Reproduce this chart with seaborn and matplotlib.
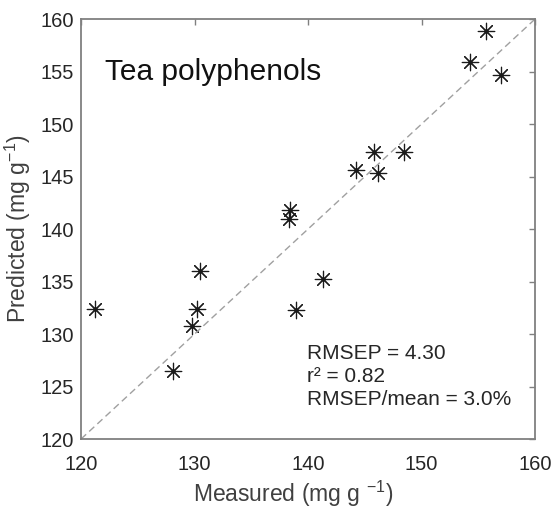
import matplotlib
matplotlib.use('Agg')
import matplotlib.pyplot as plt
import seaborn as sns
import pandas as pd

# measured vs predicted - tea polyphenols
measured = [155.7, 154.3, 157.0, 145.8, 148.5, 144.2, 146.2, 138.4, 138.3,
            130.5, 141.3, 121.2, 130.2, 138.9, 129.8, 128.1]
predicted = [158.9, 155.9, 154.7, 147.3, 147.3, 145.6, 145.3, 141.8, 141.0,
             136.0, 135.2, 132.4, 132.4, 132.3, 130.8, 126.5]
ticks_x = [120, 130, 140, 150, 160]
ticks_y = [120, 125, 130, 135, 140, 145, 150, 155, 160]
stats_text = 'RMSEP = 4.30\nr² = 0.82\nRMSEP/mean = 3.0%'

data = pd.DataFrame({'Measured': measured, 'Predicted': predicted})

sns.set_style('white')
plt.rcParams['font.family'] = ['Liberation Sans', 'DejaVu Sans']
plt.rcParams['mathtext.fontset'] = 'custom'
plt.rcParams['mathtext.rm'] = 'Liberation Sans'
plt.rcParams['mathtext.it'] = 'Liberation Sans'

fig = plt.figure(figsize=(5.55, 5.09), dpi=100)
ax = fig.add_axes([0.146, 0.1375, 0.818, 0.825])

ax.plot([120, 160], [120, 160], ls=(0, (5, 3)), color='#a0a0a0', lw=1)
sns.scatterplot(x='Measured', y='Predicted', data=data, ax=ax,
                marker=(8, 2, 0), s=140, color='#1a1a1a', linewidth=0.85,
                edgecolor='#1a1a1a', legend=False)

ax.set_xlim(120, 160)
ax.set_ylim(120, 160)
ax.set_xticks(ticks_x)
ax.set_yticks(ticks_y)
ax.tick_params(direction='in', length=4, width=1, color='#808080',
               labelcolor='#262626', labelsize=14.5, top=True, right=True)
ax.tick_params(axis='x', pad=11.5)
ax.tick_params(axis='y', pad=5)
for sp in ax.spines.values():
    sp.set_color('#808080')
    sp.set_linewidth(1.3)

ax.text(122.1, 154.2, 'Tea polyphenols', fontsize=21.5, color='#111111')
ax.text(139.9, 123.25, stats_text, fontsize=15, color='#262626',
        linespacing=1.25, va='baseline')

ax.set_xlabel('Measured (mg g $^{-1}$)', fontsize=16.5, color='#404040')
ax.set_ylabel('Predicted (mg g$^{-1}$)', fontsize=16.5, color='#404040')
ax.xaxis.set_label_coords(0.467, -0.094)
ax.yaxis.set_label_coords(-0.106, 0.5)

fig.savefig('out.png', dpi=100)
